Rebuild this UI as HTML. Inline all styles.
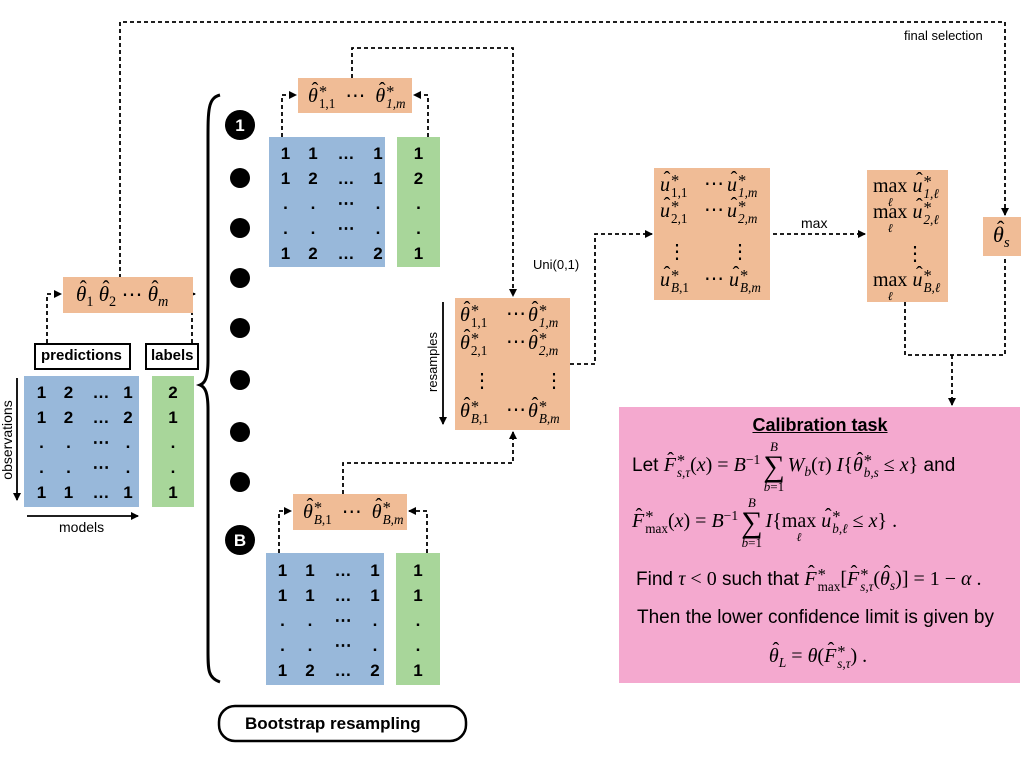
<!DOCTYPE html>
<html><head><meta charset="utf-8"><style>
body{margin:0;background:#fff;}
#c{position:relative;width:1024px;height:768px;overflow:hidden;font-family:"Liberation Sans",sans-serif;}
.t{position:absolute;white-space:nowrap;line-height:1;}
.m{font-family:"Liberation Serif",serif;font-style:italic;}
.r{font-style:normal;}
.h{position:relative;display:inline-block;}
.h::after{content:"ˆ";position:absolute;left:0.18em;top:-0.28em;font-style:normal;}
.ss{display:inline-flex;flex-direction:column;font-size:66%;line-height:0.95;vertical-align:0.38em;margin-left:1px;}
.ss > :first-child{font-size:125%;line-height:0.8;}
.sb{font-size:68%;vertical-align:-0.35em;}
.sp{font-size:68%;vertical-align:0.5em;}
.op{display:inline-flex;flex-direction:column;align-items:center;vertical-align:middle;line-height:1;margin:0 3px;}
.op .l{font-size:13px;}
.op .s{font-size:30px;font-style:normal;line-height:0.9;}
.lim{display:inline-flex;flex-direction:column;align-items:center;vertical-align:baseline;line-height:1;}
.lim .l{font-size:12px;}
.mx{position:absolute;font-size:17px;font-weight:bold;line-height:1;}
.c{position:absolute;transform:translateX(-50%);white-space:nowrap;line-height:1;}
</style></head><body><div id="c">
<svg width="1024" height="768" style="position:absolute;left:0;top:0">
<defs><marker id="a" markerWidth="8" markerHeight="8" refX="7" refY="4" orient="auto" markerUnits="userSpaceOnUse"><path d="M0,0 L8,4 L0,8 z" fill="#000"/></marker></defs>
<g fill="none" stroke="#000" stroke-width="1.8" stroke-dasharray="4,3">
<path d="M120,278 V22 H1005 V215" marker-end="url(#a)"/>
<path d="M47,343 V294 H61" marker-end="url(#a)"/>
<path d="M192,343 V294 H195" marker-end="url(#a)"/>
<path d="M282,137 V95 H296" marker-end="url(#a)"/>
<path d="M428,137 V95 H414" marker-end="url(#a)"/>
<path d="M352,78 V48 H513 V296" marker-end="url(#a)"/>
<path d="M279,553 V511 H291" marker-end="url(#a)"/>
<path d="M427,553 V511 H409" marker-end="url(#a)"/>
<path d="M343,494 V463 H513 V432" marker-end="url(#a)"/>
<path d="M570,364 H595 V234 H652" marker-end="url(#a)"/>
<path d="M773,234 H865" marker-end="url(#a)"/>
<path d="M905,302 V355 H1005 V256"/>
<path d="M952,355 V405" marker-end="url(#a)"/>
</g>
<g stroke="none">
<rect x="63" y="277" width="130" height="36" fill="#F0BC96"/>
<rect x="24" y="376" width="115" height="131" fill="#98B8DA"/>
<rect x="152" y="376" width="42" height="131" fill="#A8D69A"/>
<rect x="298" y="78" width="114" height="35" fill="#F0BC96"/>
<rect x="269" y="137" width="116" height="130" fill="#98B8DA"/>
<rect x="397" y="137" width="43" height="130" fill="#A8D69A"/>
<rect x="293" y="494" width="114" height="36" fill="#F0BC96"/>
<rect x="266" y="553" width="118" height="132" fill="#98B8DA"/>
<rect x="396" y="553" width="44" height="132" fill="#A8D69A"/>
<rect x="455" y="298" width="115" height="132" fill="#F0BC96"/>
<rect x="654" y="168" width="116" height="132" fill="#F0BC96"/>
<rect x="867" y="170" width="81" height="132" fill="#F0BC96"/>
<rect x="983" y="217" width="38" height="39" fill="#F0BC96"/>
<rect x="619" y="407" width="401" height="276" fill="#F4A9CF"/>
</g>
<rect x="35" y="344" width="95" height="25" fill="#fff" stroke="#000" stroke-width="2"/>
<rect x="146" y="344" width="52" height="25" fill="#fff" stroke="#000" stroke-width="2"/>
<rect x="219" y="706" width="247" height="35" rx="16" fill="#fff" stroke="#000" stroke-width="2.5"/>
<g stroke="#000" stroke-width="1.8" fill="none">
<path d="M17,378 V500" marker-end="url(#a)"/>
<path d="M27,516 H138" marker-end="url(#a)"/>
<path d="M443,302 V424" marker-end="url(#a)"/>
</g>
<path d="M220,95 C208,98 208,110 208,140 L208,360 C208,378 205,383 200,385 C205,387 208,392 208,410 L208,650 C208,670 208,678 220,682" fill="none" stroke="#000" stroke-width="3"/>
<g fill="#000">
<circle cx="240" cy="125" r="15"/>
<circle cx="240" cy="178" r="10"/><circle cx="240" cy="228" r="10"/><circle cx="240" cy="278" r="10"/>
<circle cx="240" cy="328" r="10"/><circle cx="240" cy="380" r="10"/><circle cx="240" cy="432" r="10"/>
<circle cx="240" cy="482" r="10"/><circle cx="240" cy="540" r="15"/>
</g>
<text x="240" y="131" fill="#fff" font-family="Liberation Sans" font-weight="bold" font-size="17" text-anchor="middle">1</text>
<text x="240" y="546" fill="#fff" font-family="Liberation Sans" font-weight="bold" font-size="17" text-anchor="middle">B</text>
<text x="12" y="440" font-family="Liberation Sans" font-size="14" text-anchor="middle" transform="rotate(-90 12 440)">observations</text>
<text x="437" y="362" font-family="Liberation Sans" font-size="13" text-anchor="middle" transform="rotate(-90 437 362)">resamples</text>
<g font-family="Liberation Serif" font-size="20" fill="#000">
<text x="472" y="387">⋮</text><text x="544" y="387">⋮</text>
<text x="667" y="258">⋮</text><text x="730" y="258">⋮</text>
<text x="905" y="260">⋮</text>
</g>
</svg>

<div class="t" style="left:904px;top:29px;font-size:13px">final selection</div>
<div class="t m" style="left:76px;top:284px;font-size:21px"><span class="h">θ</span><span class="sb r">1</span> <span class="h">θ</span><span class="sb r">2</span> <span class="r">⋯</span> <span class="h">θ</span><span class="sb">m</span></div>
<div class="t" style="left:41px;top:348px;font-size:15px;font-weight:bold">predictions</div>
<div class="t" style="left:151px;top:348px;font-size:15px;font-weight:bold">labels</div>
<div class="t" style="left:59px;top:520px;font-size:14px">models</div>
<div class="t" style="left:245px;top:715px;font-size:17px;font-weight:bold">Bootstrap resampling</div>

<div class="mx" style="left:28px;top:384px;width:108px">
<div style="display:grid;grid-template-columns:27px 27px 38px 16px;row-gap:8px;text-align:center">
<span>1</span><span>2</span><span>…</span><span>1</span>
<span>1</span><span>2</span><span>…</span><span>2</span>
<span>.</span><span>.</span><span>⋯</span><span>.</span>
<span>.</span><span>.</span><span>⋯</span><span>.</span>
<span>1</span><span>1</span><span>…</span><span>1</span></div></div>
<div class="mx" style="left:152px;top:384px;width:42px;text-align:center;display:grid;row-gap:8px"><span>2</span><span>1</span><span>.</span><span>.</span><span>1</span></div>

<div class="mx" style="left:272px;top:145px">
<div style="display:grid;grid-template-columns:27px 28px 38px 26px;row-gap:8px;text-align:center">
<span>1</span><span>1</span><span>…</span><span>1</span>
<span>1</span><span>2</span><span>…</span><span>1</span>
<span>.</span><span>.</span><span>⋯</span><span>.</span>
<span>.</span><span>.</span><span>⋯</span><span>.</span>
<span>1</span><span>2</span><span>…</span><span>2</span></div></div>
<div class="mx" style="left:397px;top:145px;width:43px;text-align:center;display:grid;row-gap:8px"><span>1</span><span>2</span><span>.</span><span>.</span><span>1</span></div>

<div class="mx" style="left:269px;top:562px">
<div style="display:grid;grid-template-columns:27px 28px 38px 26px;row-gap:8px;text-align:center">
<span>1</span><span>1</span><span>…</span><span>1</span>
<span>1</span><span>1</span><span>…</span><span>1</span>
<span>.</span><span>.</span><span>⋯</span><span>.</span>
<span>.</span><span>.</span><span>⋯</span><span>.</span>
<span>1</span><span>2</span><span>…</span><span>2</span></div></div>
<div class="mx" style="left:396px;top:562px;width:44px;text-align:center;display:grid;row-gap:8px"><span>1</span><span>1</span><span>.</span><span>.</span><span>1</span></div>

<div class="t m" style="left:308px;top:85px;font-size:20px"><span class="h">θ</span><span class="ss"><span class="r">*</span><span class="r">1,1</span></span> &nbsp;<span class="r">⋯</span>&nbsp; <span class="h">θ</span><span class="ss"><span class="r">*</span><span>1,m</span></span></div>
<div class="t m" style="left:303px;top:501px;font-size:20px"><span class="h">θ</span><span class="ss"><span class="r">*</span><span>B<span class="r">,1</span></span></span> &nbsp;<span class="r">⋯</span>&nbsp; <span class="h">θ</span><span class="ss"><span class="r">*</span><span>B,m</span></span></div>

<!-- resamples -->
<div class="t m" style="left:460px;top:304px;font-size:20px"><span class="h">θ</span><span class="ss"><span class="r">*</span><span class="r">1,1</span></span> <span class="r" style="position:absolute;left:46px">⋯</span><span style="position:absolute;left:68px"><span class="h">θ</span><span class="ss"><span class="r">*</span><span>1,m</span></span></span></div>
<div class="t m" style="left:460px;top:332px;font-size:20px"><span class="h">θ</span><span class="ss"><span class="r">*</span><span class="r">2,1</span></span> <span class="r" style="position:absolute;left:46px">⋯</span><span style="position:absolute;left:68px"><span class="h">θ</span><span class="ss"><span class="r">*</span><span>2,m</span></span></span></div>
<div class="t m" style="left:460px;top:400px;font-size:20px"><span class="h">θ</span><span class="ss"><span class="r">*</span><span>B<span class="r">,1</span></span></span> <span class="r" style="position:absolute;left:46px">⋯</span><span style="position:absolute;left:68px"><span class="h">θ</span><span class="ss"><span class="r">*</span><span>B,m</span></span></span></div>
<div class="t" style="left:533px;top:258px;font-size:13px">Uni(0,1)</div>

<!-- u -->
<div class="t m" style="left:660px;top:174px;font-size:20px"><span class="h">u</span><span class="ss"><span class="r">*</span><span class="r">1,1</span></span><span class="r" style="position:absolute;left:44px">⋯</span><span style="position:absolute;left:67px"><span class="h">u</span><span class="ss"><span class="r">*</span><span>1,m</span></span></span></div>
<div class="t m" style="left:660px;top:200px;font-size:20px"><span class="h">u</span><span class="ss"><span class="r">*</span><span class="r">2,1</span></span><span class="r" style="position:absolute;left:44px">⋯</span><span style="position:absolute;left:67px"><span class="h">u</span><span class="ss"><span class="r">*</span><span>2,m</span></span></span></div>
<div class="t m" style="left:660px;top:269px;font-size:20px"><span class="h">u</span><span class="ss"><span class="r">*</span><span>B<span class="r">,1</span></span></span><span class="r" style="position:absolute;left:44px">⋯</span><span style="position:absolute;left:69px"><span class="h">u</span><span class="ss"><span class="r">*</span><span>B,m</span></span></span></div>
<div class="t" style="left:801px;top:216px;font-size:14px">max</div>

<!-- max -->
<div class="t m" style="left:873px;top:175px;font-size:20px"><span class="lim r"><span>max</span><span class="l m">ℓ</span></span> <span class="h">u</span><span class="ss"><span class="r">*</span><span>1,ℓ</span></span></div>
<div class="t m" style="left:873px;top:201px;font-size:20px"><span class="lim r"><span>max</span><span class="l m">ℓ</span></span> <span class="h">u</span><span class="ss"><span class="r">*</span><span>2,ℓ</span></span></div>
<div class="t m" style="left:873px;top:269px;font-size:20px"><span class="lim r"><span>max</span><span class="l m">ℓ</span></span> <span class="h">u</span><span class="ss"><span class="r">*</span><span>B,ℓ</span></span></div>
<div class="t m" style="left:993px;top:224px;font-size:22px"><span class="h">θ</span><span class="sb">s</span></div>

<!-- calibration -->
<div class="c" style="left:820px;top:416px;font-size:18px;font-weight:bold;text-decoration:underline">Calibration task</div>
<div class="t" style="left:632px;top:440px;font-size:19px">Let <span class="m" style="font-size:20px"><span class="h">F</span><span class="ss"><span class="r">*</span><span>s,τ</span></span><span class="r">(</span>x<span class="r">) = </span>B<span class="sp r">−1</span><span class="op"><span class="l">B</span><span class="s">∑</span><span class="l">b<span class="r">=1</span></span></span>W<span class="sb">b</span><span class="r">(</span>τ<span class="r">)</span> I<span class="r">{</span><span class="h">θ</span><span class="ss"><span class="r">*</span><span>b,s</span></span> <span class="r">≤</span> x<span class="r">}</span></span> and</div>
<div class="t" style="left:632px;top:496px;font-size:19px"><span class="m" style="font-size:20px"><span class="h">F</span><span class="ss"><span class="r">*</span><span class="r">max</span></span><span class="r">(</span>x<span class="r">) = </span>B<span class="sp r">−1</span><span class="op"><span class="l">B</span><span class="s">∑</span><span class="l">b<span class="r">=1</span></span></span>I<span class="r">{</span><span class="lim r"><span>max</span><span class="l m">ℓ</span></span> <span class="h">u</span><span class="ss"><span class="r">*</span><span>b,ℓ</span></span> <span class="r">≤</span> x<span class="r">} .</span></span></div>
<div class="t" style="left:636px;top:568px;font-size:19px">Find <span class="m" style="font-size:20px">τ <span class="r">&lt; 0</span></span> such that <span class="m" style="font-size:20px"><span class="h">F</span><span class="ss"><span class="r">*</span><span class="r">max</span></span><span class="r">[</span><span class="h">F</span><span class="ss"><span class="r">*</span><span>s,τ</span></span><span class="r">(</span><span class="h">θ</span><span class="sb">s</span><span class="r">)] = 1 − </span>α<span class="r"> .</span></span></div>
<div class="t" style="left:637px;top:608px;font-size:19px">Then the lower confidence limit is given by</div>
<div class="c m" style="left:818px;top:645px;font-size:20px"><span class="h">θ</span><span class="sb">L</span><span class="r"> = </span>θ<span class="r">(</span><span class="h">F</span><span class="ss"><span class="r">*</span><span>s,τ</span></span><span class="r">) .</span></div>
</div></body></html>
